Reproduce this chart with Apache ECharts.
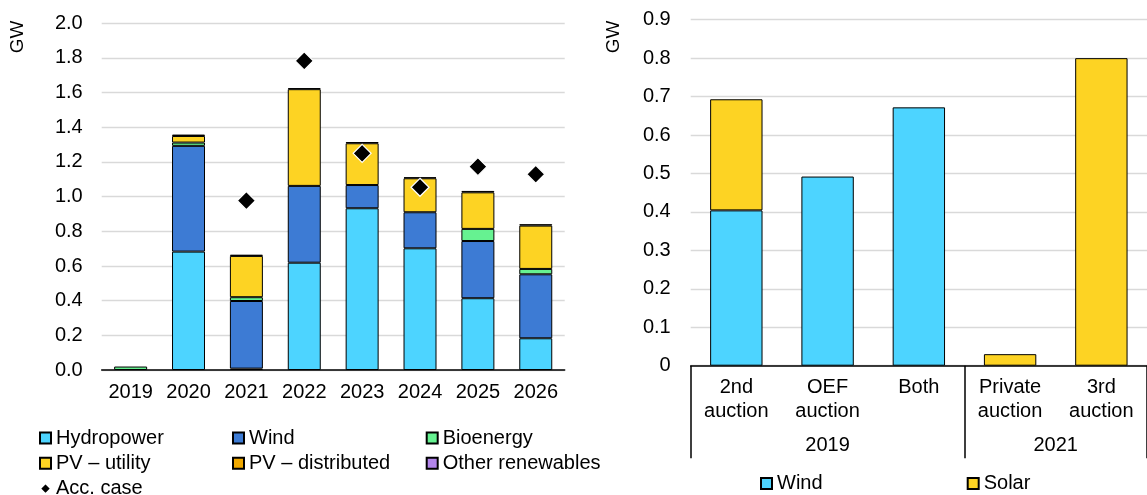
<!DOCTYPE html>
<html>
<head>
<meta charset="utf-8">
<script src="https://cdn.jsdelivr.net/npm/echarts@6/dist/echarts.min.js"></script>
<style>
  html, body { margin: 0; padding: 0; background: #fff; }
  #chart { width: 1147px; height: 495px; }
</style>
</head>
<body>
<div id="chart"></div>
<script>
// left panel: capacity additions by technology, GW
const years = ['2019', '2020', '2021', '2022', '2023', '2024', '2025', '2026']
const hydropower = [null, 0.683, 0.008, 0.619, 0.933, 0.702, 0.414, 0.183]
const wind = [null, 0.610, 0.390, 0.443, 0.134, 0.208, 0.330, 0.369]
const bioenergy = [0.020, 0.019, 0.022, null, null, null, 0.070, 0.031]
const pvUtility = [null, 0.038, 0.238, 0.558, 0.241, 0.196, 0.211, 0.250]
const pvDistributed = [null, 0.008, 0.007, 0.006, 0.007, 0.006, 0.008, 0.008]
const otherRenewables = [null, null, null, null, null, null, null, null]
const accCase = [null, null, 0.977, 1.783, 1.250, 1.054, 1.173, 1.129]

// right panel: auction results, GW
const auctions = ['2nd\nauction', 'OEF\nauction', 'Both', 'Private\nauction', '3rd\nauction']
const auctionYears = ['2019', '2021']
const auctionGroupSizes = [3, 2]
const auctionWind = [0.404, 0.492, 0.672, null, null]
const auctionSolar = [0.289, null, null, 0.030, 0.800]

const FONT = 'Liberation Sans, Arial, sans-serif'
const C = {
  hydro: '#4dd4ff',
  wind: '#3d7bd4',
  bio: '#66f291',
  pvu: '#fdd323',
  pvd: '#f0a800',
  other: '#b385eb',
}

// group boundaries / centres for the 2-level axis
const groupEdges = [0]
auctionGroupSizes.forEach(function (n) { groupEdges.push(groupEdges[groupEdges.length - 1] + n) })
const groupCenters = auctionGroupSizes.map(function (n, i) { return groupEdges[i] + n / 2 })

const chart = echarts.init(document.getElementById('chart'))

const barBorder = { borderColor: '#000', borderWidth: 1 }
const txt = { fontFamily: FONT, fontSize: 20, color: '#000' }

function stackBar(name, data, color) {
  return {
    name: name, type: 'bar', stack: 'tech', xAxisIndex: 0, yAxisIndex: 0,
    data: data, barWidth: '57%',
    itemStyle: Object.assign({ color: color }, barBorder),
  }
}

const legendCommon = {
  orient: 'vertical', itemWidth: 11, itemHeight: 11, itemGap: 5.3,
  padding: 0, icon: 'rect', selectedMode: false, height: 120, width: 200,
  textStyle: Object.assign({}, txt, { lineHeight: 14, padding: [0, 0, 0, 0] }),
}

chart.setOption({
  animation: false,
  textStyle: { fontFamily: FONT },
  grid: [
    { left: 101.7, right: 582.3, top: 23.3, bottom: 125 },
    { left: 690.7, right: -8.8, top: 19.7, bottom: 129.3 },
  ],
  xAxis: [
    {
      type: 'category', gridIndex: 0, data: years,
      axisLine: { lineStyle: { color: '#000', width: 1.5 } },
      axisTick: { length: 7, lineStyle: { color: '#000', width: 1.5 } },
      axisLabel: Object.assign({}, txt, { margin: 12, lineHeight: 20 }),
    },
    {
      type: 'category', gridIndex: 1, data: auctions, position: 'bottom',
      axisLine: { lineStyle: { color: '#000', width: 1.5 } },
      axisTick: { length: 58, lineStyle: { color: '#000', width: 1.5 } },
      axisLabel: Object.assign({}, txt, { margin: 10, lineHeight: 24, interval: 0 }),
    },
    {
      type: 'value', gridIndex: 1, position: 'bottom', min: 0, max: groupEdges[groupEdges.length - 1],
      axisLine: { show: false },
      splitLine: { show: false },
      axisTick: { show: true, length: 92.6, customValues: groupEdges, lineStyle: { color: '#000', width: 1.5 } },
      axisLabel: Object.assign({}, txt, {
        margin: 70, lineHeight: 20,
        customValues: groupCenters,
        formatter: function (v) {
          const i = groupCenters.indexOf(v)
          return i >= 0 ? auctionYears[i] : ''
        },
      }),
    },
  ],
  yAxis: [
    {
      type: 'value', gridIndex: 0, min: 0, max: 2, interval: 0.2,
      axisLine: { show: false }, axisTick: { show: false },
      splitLine: { lineStyle: { color: '#d9d9d9', width: 1.3 } },
      axisLabel: Object.assign({}, txt, { margin: 19, formatter: function (v) { return v.toFixed(1) } }),
    },
    {
      type: 'value', gridIndex: 1, min: 0, max: 0.9, interval: 0.1,
      axisLine: { show: false }, axisTick: { show: false },
      splitLine: { lineStyle: { color: '#d9d9d9', width: 1.3 } },
      axisLabel: Object.assign({}, txt, { margin: 20, formatter: function (v) { return v === 0 ? '0' : v.toFixed(1) } }),
    },
  ],
  legend: [
    Object.assign({}, legendCommon, { left: 39, top: 428, data: ['Hydropower', 'PV – utility', { name: 'Acc. case', icon: 'diamond' }] }),
    Object.assign({}, legendCommon, { left: 232, top: 428, data: ['Wind', 'PV – distributed'] }),
    Object.assign({}, legendCommon, { left: 425.7, top: 428, data: ['Bioenergy', 'Other renewables'] }),
    Object.assign({}, legendCommon, { left: 760, top: 473.5, data: ['Wind '] }),
    Object.assign({}, legendCommon, { left: 966.7, top: 473.5, data: ['Solar'] }),
  ],
  graphic: [
    { type: 'text', x: 18, y: 37, rotation: Math.PI / 2, style: { text: 'GW', font: '19px ' + FONT, fill: '#000', align: 'center', verticalAlign: 'middle' } },
    { type: 'text', x: 614, y: 37, rotation: Math.PI / 2, style: { text: 'GW', font: '19px ' + FONT, fill: '#000', align: 'center', verticalAlign: 'middle' } },
  ],
  series: [
    stackBar('Hydropower', hydropower, C.hydro),
    stackBar('Wind', wind, C.wind),
    stackBar('Bioenergy', bioenergy, C.bio),
    stackBar('PV – utility', pvUtility, C.pvu),
    stackBar('PV – distributed', pvDistributed, C.pvd),
    stackBar('Other renewables', otherRenewables, C.other),
    {
      name: 'Acc. case', type: 'scatter', xAxisIndex: 0, yAxisIndex: 0,
      data: accCase, symbol: 'diamond', symbolSize: 18,
      itemStyle: { color: '#000', borderColor: '#fff', borderWidth: 1.2, opacity: 1 },
      z: 5,
    },
    {
      // trailing space keeps the legend entry apart from the left panel's Wind
      name: 'Wind ', type: 'bar', stack: 'auction', xAxisIndex: 1, yAxisIndex: 1,
      data: auctionWind, barWidth: '57.4%',
      itemStyle: Object.assign({ color: C.hydro }, barBorder),
    },
    {
      name: 'Solar', type: 'bar', stack: 'auction', xAxisIndex: 1, yAxisIndex: 1,
      data: auctionSolar, barWidth: '57.4%',
      itemStyle: Object.assign({ color: C.pvu }, barBorder),
    },
  ],
})
</script>
</body>
</html>
